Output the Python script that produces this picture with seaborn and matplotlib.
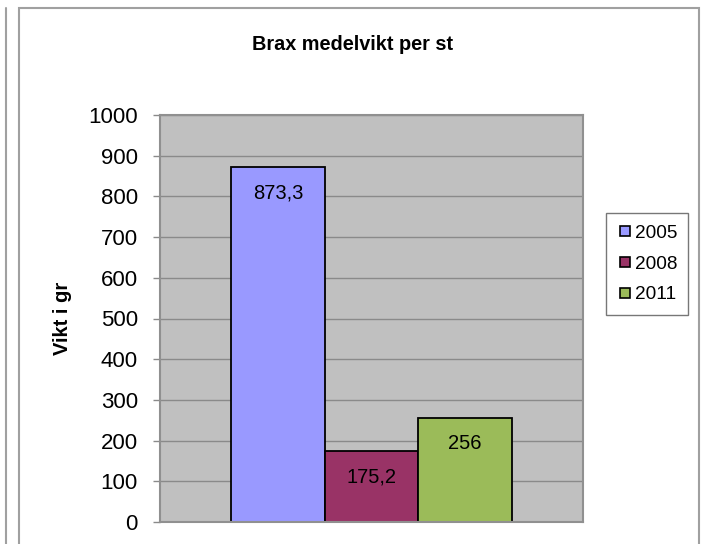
import pandas as pd
import matplotlib
matplotlib.use("Agg")
import matplotlib.pyplot as plt
import seaborn as sns
from matplotlib.patches import Rectangle
from matplotlib.lines import Line2D

# data
years = ["2005", "2008", "2011"]
weights = [873.3, 175.2, 256]
value_labels = ["873,3", "175,2", "256"]
colors = ["#9999FF", "#993366", "#9BBB59"]
y_ticks = [0, 100, 200, 300, 400, 500, 600, 700, 800, 900, 1000]

sns.set_theme(style="white")
plt.rcParams["font.family"] = ["Liberation Sans", "DejaVu Sans"]
plt.rcParams["text.color"] = "black"
plt.rcParams["ytick.color"] = "black"

df = pd.DataFrame({"cat": [""] * 3, "year": years, "weight": weights})

fig = plt.figure(figsize=(7.11, 5.44), dpi=100)
ax = fig.add_axes([160 / 711, 1 - 522 / 544, 423 / 711, 407 / 544])
ax.set_facecolor("#C0C0C0")

sns.barplot(data=df, x="cat", y="weight", hue="year", palette=colors,
            width=0.664, edgecolor="black", linewidth=1.3, saturation=1,
            legend=False, ax=ax)

ax.set_xlim(-0.5, 0.5)
ax.set_ylim(0, 1000)
ax.set_yticks(y_ticks)
ax.set_yticklabels([str(t) for t in y_ticks], fontsize=16, color="black")
ax.set_xticks([])
ax.set_xlabel("")
ax.set_ylabel("")
ax.yaxis.grid(True, color="#8A8A8A", linewidth=1)
ax.set_axisbelow(True)
ax.tick_params(axis="y", left=True, length=5, width=1, color="#8A8A8A", pad=11)
for s in ax.spines.values():
    s.set_color("#909090")
    s.set_linewidth(1.5)

for bar, lab in zip(ax.patches, value_labels):
    ax.annotate(lab, (bar.get_x() + bar.get_width() / 2, bar.get_height()),
                xytext=(0, -12), textcoords="offset points",
                ha="center", va="top", fontsize=14.5, color="black")

fig.text(352.5 / 711, 1 - 45 / 544, "Brax medelvikt per st", ha="center", va="center",
         fontsize=14.3, fontweight="bold")
fig.text(63 / 711, 1 - 318 / 544, "Vikt i gr", ha="center", va="center", rotation=90,
         fontsize=14.5, fontweight="bold")

handles = [Line2D([], [], marker="s", linestyle="", markersize=7,
                  markerfacecolor=c, markeredgecolor="black", markeredgewidth=1.2)
           for c in colors]
leg = fig.legend(handles, years, loc="center left", bbox_to_anchor=(606 / 711, 1 - 264 / 544),
                 fontsize=13.7, frameon=True, fancybox=False, handlelength=0.8,
                 handletextpad=0.1, borderpad=0.6, labelspacing=0.7, borderaxespad=0)
leg.get_frame().set_edgecolor("#555555")
leg.get_frame().set_linewidth(1)

# chart borders
fig.add_artist(Rectangle((19 / 711, -0.1), 680 / 711, 0.1 + 1 - 8 / 544,
                         transform=fig.transFigure, fill=False,
                         edgecolor="#A0A0A0", linewidth=1.5))
fig.add_artist(Line2D([5.5 / 711, 5.5 / 711], [0, 1 - 8 / 544],
                      transform=fig.transFigure, color="#A0A0A0", linewidth=1.5))

fig.savefig("out.png", dpi=100)
